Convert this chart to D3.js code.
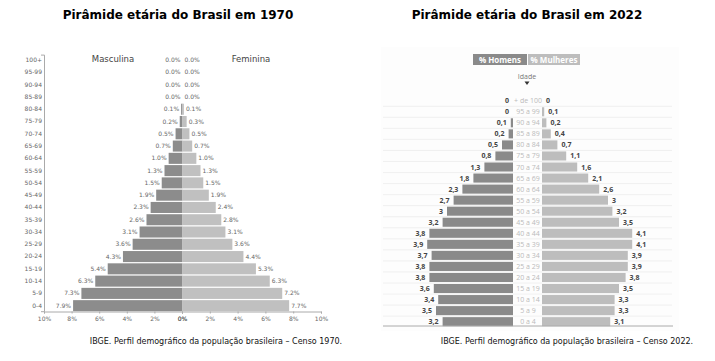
<!DOCTYPE html>
<html>
<head>
<meta charset="utf-8">
<script src="https://cdn.jsdelivr.net/npm/d3@7"></script>
<style>
  body { margin: 0; background: #fff; }
  svg { display: block; }
</style>
</head>
<body>
<script>
  //Data 1970 (percent of population)
  var ages1970 = ["100+","95-99","90-94","85-89","80-84","75-79","70-74","65-69","60-64","55-59","50-54",
                  "45-49","40-44","35-39","30-34","25-29","20-24","15-19","10-14","5-9","0-4"];
  var male1970 = [0.0,0.0,0.0,0.0,0.1,0.2,0.5,0.7,1.0,1.3,1.5,1.9,2.3,2.6,3.1,3.6,4.3,5.4,6.3,7.3,7.9];
  var female1970 = [0.0,0.0,0.0,0.0,0.1,0.3,0.5,0.7,1.0,1.3,1.5,1.9,2.4,2.8,3.1,3.6,4.4,5.3,6.3,7.2,7.7];
  var ticks1970 = [0, 2, 4, 6, 8, 10];

  //Data 2022
  var ages2022 = ["+ de 100","95 a 99","90 a 94","85 a 89","80 a 84","75 a 79","70 a 74","65 a 69","60 a 64","55 a 59","50 a 54",
                  "45 a 49","40 a 44","35 a 39","30 a 34","25 a 29","20 a 24","15 a 19","10 a 14","5 a 9","0 a 4"];
  var male2022 = [0,0,0.1,0.2,0.5,0.8,1.3,1.8,2.3,2.7,3,3.2,3.8,3.9,3.7,3.8,3.8,3.6,3.4,3.5,3.2];
  var female2022 = [0,0.1,0.2,0.4,0.7,1.1,1.6,2.1,2.6,3,3.2,3.5,4.1,4.1,3.9,3.9,3.8,3.5,3.3,3.3,3.1];

  var svg = d3.select("body").append("svg")
              .attr("width", 715)
              .attr("height", 361);

  //titles + captions
  svg.append("text").attr("x", 178).attr("y", 19).attr("text-anchor", "middle")
    .style("font", "bold 12px 'DejaVu Sans'").attr("fill", "#000")
    .text("Pirâmide etária do Brasil em 1970");
  svg.append("text").attr("x", 527).attr("y", 19).attr("text-anchor", "middle")
    .style("font", "bold 12px 'DejaVu Sans'").attr("fill", "#000")
    .text("Pirâmide etária do Brasil em 2022");
  svg.append("text").attr("x", 216).attr("y", 344).attr("text-anchor", "middle")
    .style("font", "8px 'DejaVu Sans'").attr("fill", "#111")
    .text("IBGE. Perfil demográfico da população brasileira – Censo 1970.");
  svg.append("text").attr("x", 567).attr("y", 344).attr("text-anchor", "middle")
    .style("font", "8px 'DejaVu Sans'").attr("fill", "#111")
    .text("IBGE. Perfil demográfico da população brasileira – Censo 2022.");

  // ---------- 1970 ----------
  var left = svg.append("g");
  var x = d3.scaleLinear().domain([-10, 10]).range([44, 321]);
  var y = d3.scaleBand().domain(ages1970).range([54.6, 311.2]).paddingInner(0.1);

  left.selectAll(".m").data(male1970).enter().append("rect")
    .attr("x", function(d) { return x(-d); })
    .attr("y", function(d, i) { return y(ages1970[i]); })
    .attr("width", function(d) { return x(0) - x(-d); })
    .attr("height", y.bandwidth())
    .attr("fill", "#8c8c8c");
  left.selectAll(".f").data(female1970).enter().append("rect")
    .attr("x", x(0))
    .attr("y", function(d, i) { return y(ages1970[i]); })
    .attr("width", function(d) { return x(d) - x(0); })
    .attr("height", y.bandwidth())
    .attr("fill", "#c0c0c0");

  left.selectAll(".ml").data(male1970).enter().append("text")
    .attr("x", function(d) { return x(-d) - 2; })
    .attr("y", function(d, i) { return y(ages1970[i]) + y.bandwidth() / 2 + 2; })
    .attr("text-anchor", "end")
    .style("font", "6px 'DejaVu Sans'").attr("fill", "#666")
    .text(function(d) { return d.toFixed(1) + "%"; });
  left.selectAll(".fl").data(female1970).enter().append("text")
    .attr("x", function(d) { return x(d) + 2; })
    .attr("y", function(d, i) { return y(ages1970[i]) + y.bandwidth() / 2 + 2; })
    .style("font", "6px 'DejaVu Sans'").attr("fill", "#666")
    .text(function(d) { return d.toFixed(1) + "%"; });

  //axes
  var yAxis = left.append("g").attr("transform", "translate(44,0)")
    .call(d3.axisLeft(y).tickSize(0).tickSizeOuter(3).tickPadding(2));
  var xAxisL = left.append("g").attr("transform", "translate(0,311.5)")
    .call(d3.axisBottom(d3.scaleLinear().domain([10, 0]).range([44, 182]))
      .tickValues(ticks1970).tickSize(2).tickFormat(function(d) { return d + "%"; }));
  var xAxisR = left.append("g").attr("transform", "translate(0,311.5)")
    .call(d3.axisBottom(d3.scaleLinear().domain([0, 10]).range([182, 321]))
      .tickValues(ticks1970).tickSize(2).tickFormat(function(d) { return d + "%"; }));
  [yAxis, xAxisL, xAxisR].forEach(function(a) {
    a.selectAll("path, line").attr("stroke", "#aaa");
    a.selectAll("text").style("font", "6px 'DejaVu Sans'").attr("fill", "#666");
  });

  left.append("text").attr("x", 113).attr("y", 62).attr("text-anchor", "middle")
    .style("font", "8.5px 'DejaVu Sans'").attr("fill", "#444").text("Masculina");
  left.append("text").attr("x", 251).attr("y", 62).attr("text-anchor", "middle")
    .style("font", "8.5px 'DejaVu Sans'").attr("fill", "#444").text("Feminina");

  // ---------- 2022 ----------
  var right = svg.append("g");
  right.append("rect").attr("x", 381).attr("y", 47).attr("width", 298).attr("height", 284)
    .attr("fill", "#fdfdfd");

  var xm = d3.scaleLinear().domain([0, 5]).range([513, 403]);
  var xf = d3.scaleLinear().domain([0, 5]).range([542, 652]);
  var y2 = d3.scaleBand().domain(ages2022).range([96.2, 326.2]).paddingInner(0.18);
  var fmt = function(d) { return String(d).replace(".", ","); };

  //row separators
  right.selectAll(".sep").data(ages2022.slice(1)).enter().append("line")
    .attr("x1", 383).attr("x2", 672)
    .attr("y1", function(d) { return y2(d) - y2.step() * y2.paddingInner() / 2; })
    .attr("y2", function(d) { return y2(d) - y2.step() * y2.paddingInner() / 2; })
    .attr("stroke", "#ececec").attr("stroke-width", 0.8);

  right.selectAll(".m").data(male2022).enter().append("rect")
    .attr("x", function(d) { return xm(d); })
    .attr("y", function(d, i) { return y2(ages2022[i]); })
    .attr("width", function(d) { return xm(0) - xm(d); })
    .attr("height", y2.bandwidth())
    .attr("fill", "#8a8a8a");
  right.selectAll(".f").data(female2022).enter().append("rect")
    .attr("x", xf(0))
    .attr("y", function(d, i) { return y2(ages2022[i]); })
    .attr("width", function(d) { return xf(d) - xf(0); })
    .attr("height", y2.bandwidth())
    .attr("fill", "#bdbdbd");

  right.selectAll(".ml").data(male2022).enter().append("text")
    .attr("x", function(d) { return xm(d) - 4; })
    .attr("y", function(d, i) { return y2(ages2022[i]) + y2.bandwidth() / 2 + 2.5; })
    .attr("text-anchor", "end")
    .style("font", "bold 7px 'Open Sans'").attr("fill", "#444")
    .text(fmt);
  right.selectAll(".fl").data(female2022).enter().append("text")
    .attr("x", function(d) { return xf(d) + 4; })
    .attr("y", function(d, i) { return y2(ages2022[i]) + y2.bandwidth() / 2 + 2.5; })
    .style("font", "bold 7px 'Open Sans'").attr("fill", "#444")
    .text(fmt);

  right.selectAll(".age").data(ages2022).enter().append("text")
    .attr("x", 528)
    .attr("y", function(d) { return y2(d) + y2.bandwidth() / 2 + 2.5; })
    .attr("text-anchor", "middle")
    .style("font", "7px 'Open Sans'").attr("fill", "#bbb")
    .text(function(d) { return d; });

  right.append("line").attr("x1", 383).attr("x2", 673).attr("y1", 326).attr("y2", 326)
    .attr("stroke", "#aaa").attr("stroke-width", 1);

  //legend
  right.append("rect").attr("x", 473).attr("y", 54).attr("width", 54).attr("height", 11).attr("fill", "#8a8a8a");
  right.append("rect").attr("x", 528).attr("y", 54).attr("width", 52).attr("height", 11).attr("fill", "#bdbdbd");
  right.append("text").attr("x", 500).attr("y", 62.5).attr("text-anchor", "middle")
    .style("font", "bold 8px 'Open Sans'").attr("fill", "#fff").text("% Homens");
  right.append("text").attr("x", 554).attr("y", 62.5).attr("text-anchor", "middle")
    .style("font", "bold 8px 'Open Sans'").attr("fill", "#fff").text("% Mulheres");
  right.append("text").attr("x", 527).attr("y", 79).attr("text-anchor", "middle")
    .style("font", "7px 'Open Sans'").attr("fill", "#777").text("Idade");
  right.append("path").attr("d", "M524.5,81.5 L529.5,81.5 L527,85 Z").attr("fill", "#333");
</script>
</body>
</html>
